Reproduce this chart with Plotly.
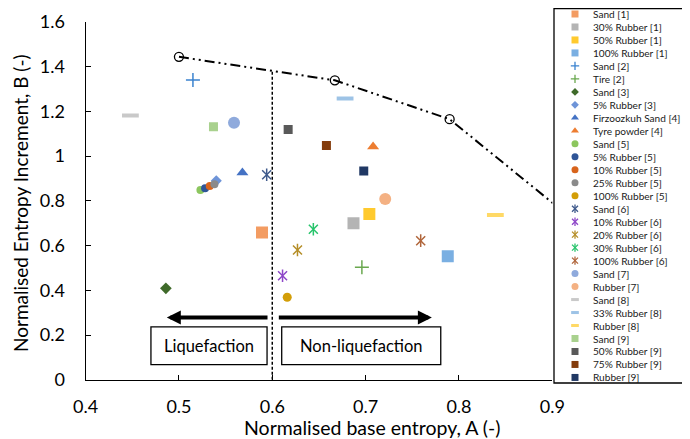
import plotly.graph_objects as go

# ---------------- data ----------------
names = ["Sand [1]", "30% Rubber [1]", "50% Rubber [1]", "100% Rubber [1]",
         "Sand [2]", "Tire [2]", "Sand [3]", "5% Rubber [3]",
         "Firzoozkuh Sand [4]", "Tyre powder [4]",
         "Sand [5]", "5% Rubber [5]", "10% Rubber [5]", "25% Rubber [5]", "100% Rubber [5]",
         "Sand [6]", "10% Rubber [6]", "20% Rubber [6]", "30% Rubber [6]", "100% Rubber [6]",
         "Sand [7]", "Rubber [7]", "Sand [8]", "33% Rubber [8]", "Rubber [8]",
         "Sand [9]", "50% Rubber [9]", "75% Rubber [9]", "Rubber [9]"]
x_vals = [0.589, 0.687, 0.704, 0.788,
          0.515, 0.696, 0.486, 0.540,
          0.568, 0.708,
          0.523, 0.528, 0.533, 0.538, 0.616,
          0.594, 0.611, 0.627, 0.644, 0.759,
          0.559, 0.721, 0.448, 0.678, 0.839,
          0.537, 0.617, 0.658, 0.698]
y_vals = [0.659, 0.700, 0.741, 0.552,
          1.340, 0.503, 0.409, 0.890,
          0.926, 1.042,
          0.848, 0.856, 0.866, 0.874, 0.369,
          0.917, 0.465, 0.580, 0.673, 0.622,
          1.149, 0.808, 1.182, 1.257, 0.737,
          1.131, 1.119, 1.048, 0.933]

boundary_x = [0.500, 0.667, 0.790, 0.930]
boundary_y = [1.444, 1.339, 1.165, 0.690]
split_x = [0.6, 0.6]
split_y = [0.0, 1.381]

x_title = "Normalised base entropy, A (-)"
y_title = "Normalised Entropy Increment, B (-)"
zone_labels = ["Liquefaction", "Non-liquefaction"]

# ---------------- styles ----------------
styles = [
    ("square", "#F39C62", 12), ("square", "#B4B4B4", 12), ("square", "#FFCA2E", 12), ("square", "#7AAFE2", 12),
    ("plus", "#3B83CF", 10), ("plus", "#6AA84F", 10), ("diamond", "#3F6A2A", 9), ("diamond", "#6E94D8", 8.5),
    ("triangle-up", "#4472C4", 10.5), ("triangle-up", "#ED7D31", 10.5),
    ("circle", "#8CC65E", 8), ("circle", "#2F5597", 8), ("circle", "#D8641C", 8), ("circle", "#8A8A8A", 8), ("circle", "#D39E08", 9),
    ("ast", "#3F5A8C", 9), ("ast", "#8E47C8", 9), ("ast", "#B58E28", 9), ("ast", "#27C46B", 9), ("ast", "#B0653A", 9),
    ("circle", "#8FAADC", 12), ("circle", "#F4B183", 12), ("dash", "#C9C9C9", 12), ("dash", "#9DC3E6", 12), ("dash", "#FFD966", 12),
    ("square", "#A9D18E", 9), ("square", "#595959", 9), ("square", "#843C0C", 9), ("square", "#203864", 9),
]
legend_sizes = {"square": 7, "plus": 6, "diamond": 6, "triangle-up": 7, "circle": 7, "ast": 6, "dash": 5.5}

FONT = "Lato"
OFF = 8                     # the page body has an 8px margin
W, H = 690 - OFF, 439 - OFF


def px(p):   # page x pixel -> paper fraction
    return (p - OFF) / W


def py(p):   # page y pixel -> paper fraction
    return 1 - (p - OFF) / H


fig = go.Figure()


def add_marker(fig, xv, yv, sym, color, size, xa, ya, lw=1.5):
    common = dict(x=xv, y=yv, mode="markers", xaxis=xa, yaxis=ya, showlegend=False, hoverinfo="skip")
    if sym == "plus":
        fig.add_trace(go.Scatter(marker=dict(symbol="cross-thin-open", size=size, color=color,
                                             line=dict(color=color, width=lw)), **common))
    elif sym == "ast":
        fig.add_trace(go.Scatter(marker=dict(symbol="x-thin-open", size=size, color=color,
                                             line=dict(color=color, width=lw)), **common))
        fig.add_trace(go.Scatter(marker=dict(symbol="line-ns-open", size=size, color=color,
                                             line=dict(color=color, width=lw)), **common))
    elif sym == "dash":
        fig.add_trace(go.Scatter(marker=dict(symbol="line-ew-open", size=size, color=color,
                                             line=dict(color=color, width=4 if size > 8 else 3)), **common))
    else:
        fig.add_trace(go.Scatter(marker=dict(symbol=sym, size=size, color=color, line=dict(width=0)), **common))


# boundary line and split line
fig.add_trace(go.Scatter(x=split_x, y=split_y, mode="lines", showlegend=False, hoverinfo="skip",
                         line=dict(color="black", width=1.5, dash="3px,2px")))
fig.add_trace(go.Scatter(x=boundary_x, y=boundary_y, mode="lines+markers", showlegend=False, hoverinfo="skip",
                         line=dict(color="black", width=2, dash="10px,4px,2px,4px,2px,4px"),
                         marker=dict(symbol="circle-open", size=9, color="black",
                                     line=dict(color="black", width=1.3))))

# data series
for i, (sym, col, sz) in enumerate(styles):
    add_marker(fig, [x_vals[i]], [y_vals[i]], sym, col, sz, "x", "y")

# custom legend (on a hidden second axis)
for i, (nm, (sym, col, sz)) in enumerate(zip(names, styles)):
    add_marker(fig, [21], [i], sym, col, legend_sizes[sym], "x2", "y2", lw=1.3)
    fig.add_annotation(x=37, y=i, xref="x2", yref="y2", text=nm, showarrow=False,
                       xanchor="left", yanchor="middle", font=dict(family=FONT, size=10.1, color="#1a1a1a"))

# zone arrows
arrow_y = 0.279
fig.add_annotation(x=0.487, y=arrow_y, ax=0.5965, ay=arrow_y, xref="x", yref="y", axref="x", ayref="y",
                   showarrow=True, arrowhead=2, arrowsize=0.7, arrowwidth=4, arrowcolor="black", text="")
fig.add_annotation(x=0.771, y=arrow_y, ax=0.6054, ay=arrow_y, xref="x", yref="y", axref="x", ayref="y",
                   showarrow=True, arrowhead=2, arrowsize=0.7, arrowwidth=4, arrowcolor="black", text="")

# zone boxes
box_spans = [(0.470, 0.5944), (0.6101, 0.7805)]
for (bx0, bx1), lab in zip(box_spans, zone_labels):
    fig.add_shape(type="rect", xref="x", yref="y", x0=bx0, x1=bx1, y0=0.0675, y1=0.237,
                  line=dict(color="black", width=1.3), fillcolor="white")
    fig.add_annotation(x=(bx0 + bx1) / 2, y=0.152, xref="x", yref="y", text=lab, showarrow=False,
                       xanchor="center", yanchor="middle",
                       font=dict(family=FONT, size=16.5, color="black"))

# legend border
fig.add_shape(type="rect", xref="paper", yref="paper", x0=px(554), x1=px(689),
              y0=py(383), y1=py(8.7), line=dict(color="black", width=1.3))

# axis titles
fig.add_annotation(x=px(372.5), y=py(427), xref="paper", yref="paper", text=x_title,
                   xanchor="center", yanchor="middle",
                   showarrow=False, font=dict(family=FONT, size=19.5, color="black"))
fig.add_annotation(x=px(20), y=py(203), xref="paper", yref="paper", text=y_title, textangle=-90,
                   xanchor="center", yanchor="middle",
                   showarrow=False, font=dict(family=FONT, size=19, color="black"))

axis_common = dict(showgrid=False, zeroline=False, showline=True, linecolor="black", linewidth=1.3,
                   ticks="inside", ticklen=5, tickcolor="black", tickwidth=1.3, automargin=False,
                   tickfont=dict(family=FONT, size=18, color="black"))

# legend rows: row i sits at page pixel 14 + 12.98*i
row0, rowh = 14.0 - OFF, 12.98
fig.update_layout(
    width=W, height=H, margin=dict(l=0, r=0, t=0, b=0, autoexpand=False),
    paper_bgcolor="white", plot_bgcolor="white", showlegend=False,
    xaxis=dict(domain=[px(85.6), px(552.3)], range=[0.4, 0.9], dtick=0.1, tick0=0.4,
               ticklabelstandoff=10, **axis_common),
    yaxis=dict(domain=[py(379.8), py(21.9)], range=[0, 1.6], dtick=0.2, tick0=0,
               ticklabelstandoff=16, **axis_common),
    xaxis2=dict(domain=[px(554), px(689)], range=[0, 135], visible=False, anchor="y2", automargin=False),
    yaxis2=dict(domain=[0, 1], range=[(H - row0) / rowh, -row0 / rowh], visible=False, anchor="x2",
                automargin=False),
)

fig.write_html("out.html")
